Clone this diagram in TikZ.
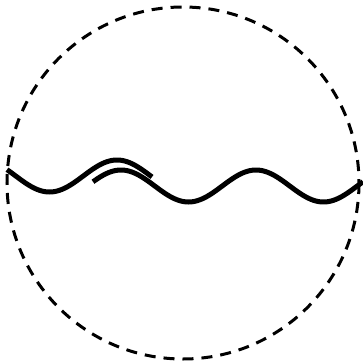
\documentclass[tikz,border=0pt]{standalone}
\usepackage{tikz}
\usetikzlibrary{calc}

\tikzset{
  rim/.style={line width=3pt,dash pattern=on 11pt off 8pt},
  strand/.style={line width=5pt,smooth,samples=120}
}

\begin{document}
\begin{tikzpicture}[x=1pt,y=-1pt]
        \useasboundingbox (0,0) rectangle (363,364);
        \coordinate (centre) at (183,183);
        \draw[rim] (centre) circle[radius=176];
        % left strand, lifted over the right one
        \draw[strand] plot[domain=7:152] (\x,{176-16*cos(2.6667*(\x-117))});
        % right strand
        \draw[strand] plot[domain=93:363] (\x,{186-16*cos(2.6667*(\x-121))});
      \end{tikzpicture}
\end{document}
